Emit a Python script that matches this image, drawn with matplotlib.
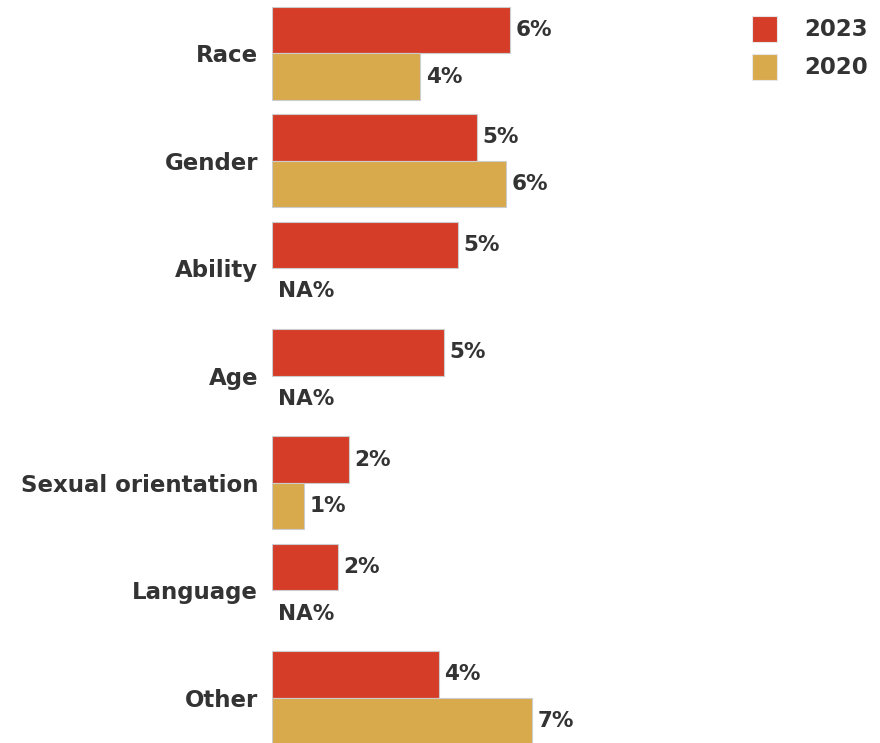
import matplotlib.pyplot as plt
import numpy as np
from matplotlib.patches import Rectangle

# data (percent)
categories = ["Race", "Gender", "Ability", "Age", "Sexual orientation", "Language", "Other"]
values_2023 = [6.35, 5.47, 4.96, 4.59, 2.05, 1.76, 4.45]
values_2020 = [3.95, 6.24, np.nan, np.nan, 0.85, np.nan, 6.93]
series_labels = ["2023", "2020"]

RED = "#D53D28"
GOLD = "#D8AA4C"
TEXT = "#333333"
FONT = "DejaVu Sans"

W, H = 880, 743
fig = plt.figure(figsize=(W / 100, H / 100), dpi=100)

# axes spans from the zero line to the right edge, full height
left_px = 272
ax = fig.add_axes([left_px / W, 0, 1 - left_px / W, 1])
px_per_unit = 37.5
ax.set_xlim(0, (W - left_px) / px_per_unit)
pitch = 107.4
first_center = 53.3
ax.set_ylim((H - first_center) / pitch, -first_center / pitch)

y = np.arange(len(categories))
bar_h = 46.5 / pitch

ax.barh(y - bar_h / 2, values_2023, height=bar_h, color=RED,
        edgecolor="#cccccc", linewidth=0.8)
v20 = np.array(values_2020)
ok = ~np.isnan(v20)
ax.barh((y + bar_h / 2)[ok], v20[ok], height=bar_h, color=GOLD,
        edgecolor="#cccccc", linewidth=0.8)

lbl = dict(fontsize=15.5, fontweight="bold", color=TEXT, family=FONT,
           va="center", ha="left")
for i, (a, b) in enumerate(zip(values_2023, values_2020)):
    ax.annotate(f"{round(a)}%", (a, i - bar_h / 2), xytext=(4, 0),
                textcoords="offset points", **lbl)
    txt = "NA%" if np.isnan(b) else f"{round(b)}%"
    xb = 0 if np.isnan(b) else b
    ax.annotate(txt, (xb, i + bar_h / 2), xytext=(4, 0),
                textcoords="offset points", **lbl)

ax.set_yticks(y)
ax.set_yticklabels(categories, fontsize=16.5, fontweight="bold",
                   color=TEXT, family=FONT)
ax.tick_params(axis="y", length=0, pad=10)
ax.set_xticks([])
for s in ax.spines.values():
    s.set_visible(False)

# legend, top right
for k, (lab, col) in enumerate(zip(series_labels, [RED, GOLD])):
    top = 16 + 38 * k
    fig.add_artist(Rectangle((752 / W, 1 - (top + 26) / H), 25 / W, 26 / H,
                             transform=fig.transFigure, facecolor=col,
                             edgecolor="#e6e6e6", linewidth=0.8))
    fig.text(868 / W, 1 - (top + 14) / H, lab, ha="right", va="center",
             fontsize=16.5, fontweight="bold", color=TEXT, family=FONT)

fig.savefig("out.png", dpi=100)
